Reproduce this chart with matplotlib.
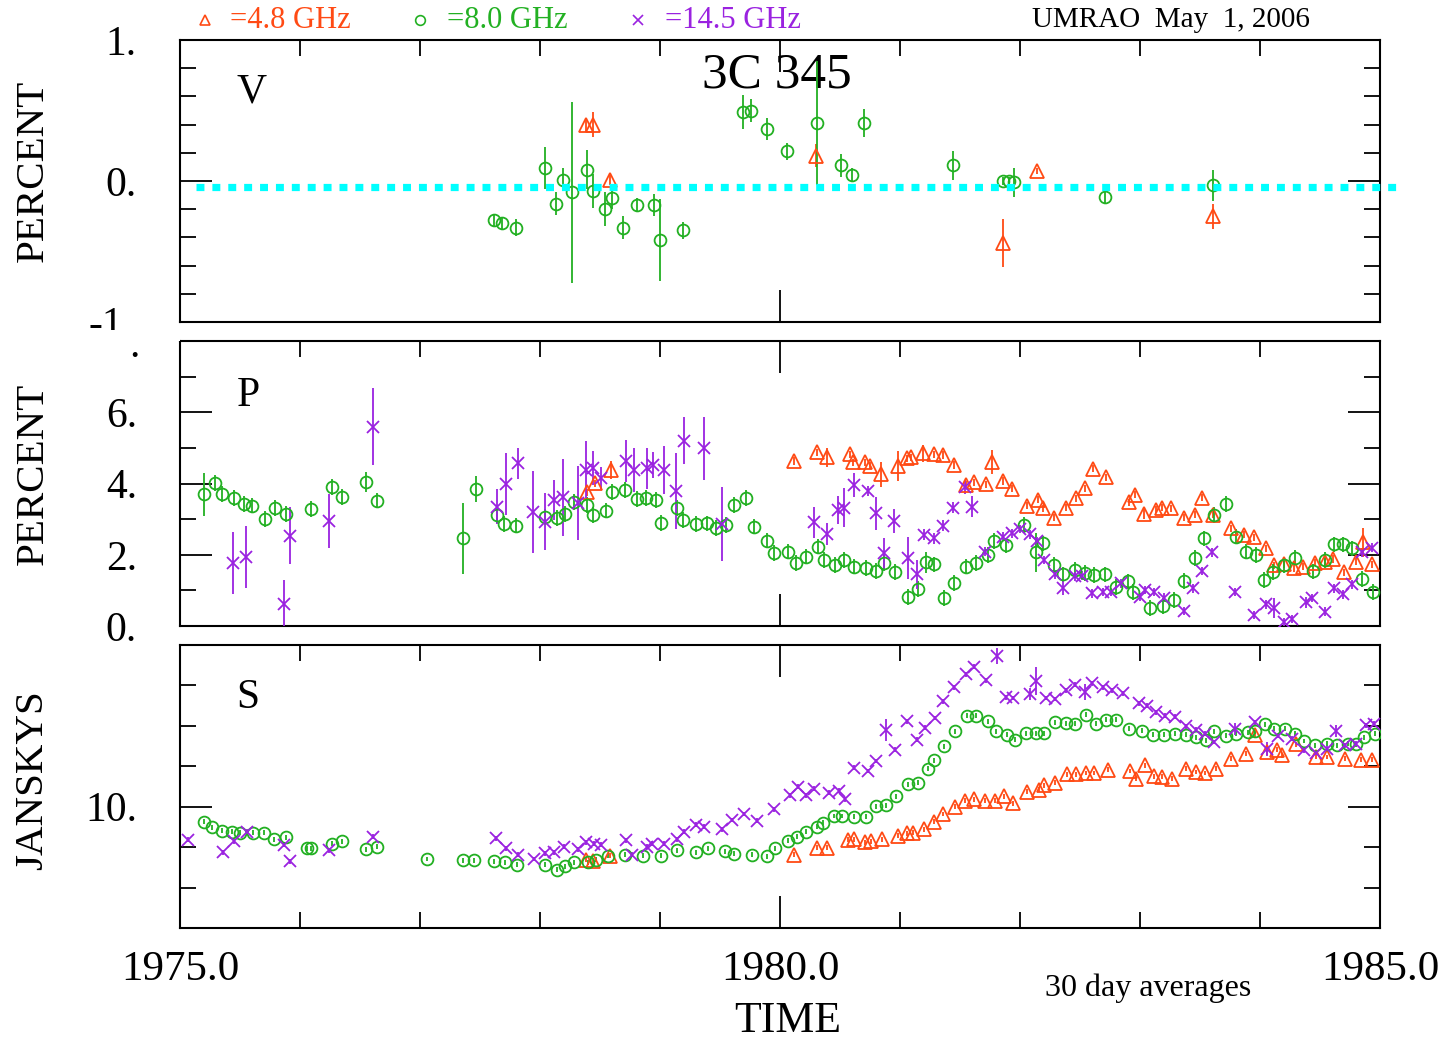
import matplotlib.pyplot as plt
from matplotlib.lines import Line2D
from matplotlib.patches import Rectangle
from matplotlib.ticker import MultipleLocator, FuncFormatter

plt.rcParams['font.family'] = ['Liberation Serif', 'DejaVu Serif']

C48 = '#ff4a14'
C80 = '#22b022'
C145 = '#9a22e0'

# ---- V : circular polarization (percent) ----
v80_t = [1977.62, 1977.68, 1977.80, 1978.04, 1978.13, 1978.19, 1978.27, 1978.39, 1978.44, 1978.54,
         1978.60, 1978.69, 1978.81, 1978.95, 1979.00, 1979.19, 1979.69, 1979.76, 1979.89, 1980.06,
         1980.31, 1980.51, 1980.60, 1980.70, 1981.44, 1981.86, 1981.91, 1981.95, 1982.71, 1983.61]
v80 = [-0.28, -0.30, -0.33, 0.09, -0.16, 0.01, -0.08, 0.08, -0.07, -0.20,
       -0.12, -0.33, -0.17, -0.17, -0.42, -0.35, 0.49, 0.50, 0.37, 0.21,
       0.41, 0.11, 0.04, 0.41, 0.11, 0.00, 0.00, -0.01, -0.11, -0.03]
v80_err = [0.04, 0.04, 0.06, 0.15, 0.08, 0.08, 0.64, 0.14, 0.12, 0.12,
           0.08, 0.08, 0.05, 0.08, 0.29, 0.06, 0.12, 0.08, 0.08, 0.06,
           0.44, 0.08, 0.05, 0.10, 0.10, 0.03, 0.03, 0.10, 0.05, 0.11]
v48_t = [1978.38, 1978.44, 1978.58, 1980.30, 1981.86, 1982.14, 1983.61]
v48 = [0.40, 0.40, 0.01, 0.18, -0.44, 0.07, -0.25]
v48_err = [0.05, 0.09, 0.04, 0.08, 0.17, 0.02, 0.09]
v_zero_level = -0.04
v_zero_span = [1975.13, 1985.13]

# ---- P : linear polarization (percent) ----
p48_t = [1978.39, 1978.46, 1978.59,
         1980.12, 1980.31, 1980.39, 1980.58, 1980.61, 1980.71, 1980.75, 1980.84, 1980.98,
         1981.06, 1981.09, 1981.19, 1981.28, 1981.36, 1981.45, 1981.55, 1981.62, 1981.72, 1981.77, 1981.86, 1981.93,
         1982.06, 1982.15, 1982.19, 1982.28, 1982.38, 1982.47, 1982.54, 1982.61, 1982.72, 1982.91, 1982.96,
         1983.03, 1983.13, 1983.18, 1983.26, 1983.37, 1983.46, 1983.52, 1983.61, 1983.76, 1983.87, 1983.95,
         1984.05, 1984.12, 1984.20, 1984.28, 1984.36, 1984.46, 1984.54, 1984.61, 1984.70, 1984.80, 1984.86, 1984.93]
p48 = [3.75, 4.01, 4.38,
       4.63, 4.88, 4.73, 4.82, 4.60, 4.60, 4.50, 4.26, 4.48,
       4.71, 4.73, 4.85, 4.82, 4.80, 4.52, 3.96, 4.04, 3.98, 4.60, 4.07, 3.85,
       3.38, 3.54, 3.31, 3.04, 3.32, 3.59, 3.87, 4.41, 4.17, 3.47, 3.68,
       3.14, 3.26, 3.32, 3.31, 3.04, 3.12, 3.60, 3.12, 2.74, 2.56, 2.49,
       2.18, 1.71, 1.73, 1.62, 1.67, 1.78, 1.81, 1.88, 1.51, 1.81, 2.35, 1.73]
p48_err = [0.10, 0.10, 0.26,
           0.10, 0.10, 0.26, 0.10, 0.10, 0.10, 0.10, 0.35, 0.42,
           0.10, 0.10, 0.24, 0.10, 0.10, 0.10, 0.10, 0.10, 0.10, 0.34, 0.10, 0.10,
           0.10, 0.10, 0.10, 0.10, 0.10, 0.10, 0.10, 0.10, 0.10, 0.10, 0.10,
           0.15, 0.10, 0.10, 0.10, 0.10, 0.10, 0.10, 0.10, 0.10, 0.10, 0.10,
           0.10, 0.10, 0.10, 0.10, 0.10, 0.10, 0.10, 0.10, 0.10, 0.10, 0.40, 0.10]

p80_t = [1975.20, 1975.29, 1975.35, 1975.45, 1975.53, 1975.60, 1975.71, 1975.79, 1975.88,
         1976.09, 1976.27, 1976.35, 1976.55, 1976.64,
         1977.36, 1977.47, 1977.64, 1977.70, 1977.80,
         1978.04, 1978.14, 1978.21, 1978.28, 1978.39, 1978.44, 1978.55, 1978.60, 1978.71, 1978.81, 1978.88, 1978.97,
         1979.01, 1979.14, 1979.19, 1979.30, 1979.39, 1979.47, 1979.55, 1979.62, 1979.72, 1979.78, 1979.89, 1979.95,
         1980.07, 1980.13, 1980.22, 1980.32, 1980.37, 1980.46, 1980.53, 1980.62, 1980.72, 1980.80, 1980.87, 1980.96,
         1981.07, 1981.15, 1981.22, 1981.28, 1981.37, 1981.45, 1981.55, 1981.63, 1981.73, 1981.78, 1981.88,
         1982.03, 1982.13, 1982.19, 1982.28, 1982.36, 1982.46, 1982.54, 1982.62, 1982.71, 1982.80, 1982.90, 1982.94,
         1983.08, 1983.19, 1983.28, 1983.37, 1983.46, 1983.53, 1983.62, 1983.72, 1983.80, 1983.88, 1983.97,
         1984.03, 1984.11, 1984.20, 1984.29, 1984.44, 1984.54, 1984.62, 1984.69, 1984.77, 1984.85, 1984.94]
p80 = [3.70, 4.01, 3.70, 3.60, 3.42, 3.38, 3.00, 3.32, 3.14,
       3.28, 3.91, 3.63, 4.03, 3.52,
       2.46, 3.84, 3.12, 2.86, 2.82,
       3.07, 3.04, 3.15, 3.49, 3.40, 3.12, 3.24, 3.77, 3.82, 3.56, 3.59, 3.54,
       2.90, 3.31, 2.98, 2.87, 2.88, 2.76, 2.84, 3.40, 3.60, 2.79, 2.40, 2.04,
       2.09, 1.76, 1.95, 2.23, 1.85, 1.71, 1.85, 1.67, 1.62, 1.55, 1.76, 1.51,
       0.82, 1.04, 1.79, 1.73, 0.78, 1.20, 1.67, 1.76, 1.99, 2.39, 2.26,
       2.84, 2.07, 2.32, 1.71, 1.45, 1.57, 1.48, 1.43, 1.45, 1.10, 1.25, 0.96,
       0.50, 0.57, 0.73, 1.26, 1.90, 2.46, 3.12, 3.42, 2.51, 2.09, 1.99,
       1.29, 1.51, 1.71, 1.92, 1.53, 1.85, 2.29, 2.29, 2.18, 1.32, 0.96]
p80_err = [0.60, 0.22, 0.22, 0.22, 0.22, 0.22, 0.22, 0.22, 0.22,
           0.22, 0.22, 0.22, 0.28, 0.22,
           1.00, 0.37, 0.22, 0.22, 0.22,
           0.22, 0.22, 0.22, 0.22, 0.22, 0.22, 0.22, 0.22, 0.22, 0.22, 0.22, 0.22,
           0.22, 0.22, 0.22, 0.22, 0.22, 0.22, 0.22, 0.22, 0.22, 0.22, 0.22, 0.22,
           0.22, 0.22, 0.22, 0.22, 0.22, 0.22, 0.22, 0.22, 0.22, 0.22, 0.22, 0.22,
           0.22, 0.22, 0.30, 0.22, 0.22, 0.22, 0.22, 0.22, 0.22, 0.22, 0.22,
           0.22, 0.55, 0.22, 0.22, 0.22, 0.22, 0.22, 0.22, 0.22, 0.22, 0.22, 0.22,
           0.22, 0.22, 0.22, 0.22, 0.22, 0.22, 0.22, 0.22, 0.22, 0.22, 0.22,
           0.22, 0.22, 0.22, 0.22, 0.22, 0.22, 0.22, 0.22, 0.22, 0.22, 0.22]

p145_t = [1975.44, 1975.55, 1975.87, 1975.92, 1976.24, 1976.61,
          1977.64, 1977.72, 1977.82, 1977.94,
          1978.04, 1978.12, 1978.19, 1978.32, 1978.38, 1978.44, 1978.51, 1978.72, 1978.78, 1978.89, 1978.94,
          1979.03, 1979.13, 1979.20, 1979.37, 1979.52,
          1980.28, 1980.39, 1980.48, 1980.53, 1980.62, 1980.73, 1980.80, 1980.87, 1980.95,
          1981.07, 1981.14, 1981.20, 1981.28, 1981.36, 1981.44, 1981.54, 1981.60, 1981.71, 1981.86, 1981.93,
          1982.00, 1982.08, 1982.14, 1982.20, 1982.29, 1982.36, 1982.46, 1982.52, 1982.60, 1982.69, 1982.76, 1982.84,
          1983.00, 1983.04, 1983.12, 1983.20, 1983.37, 1983.44, 1983.52, 1983.60, 1983.79, 1983.95,
          1984.05, 1984.12, 1984.20, 1984.27, 1984.38, 1984.43, 1984.54, 1984.62, 1984.69, 1984.77, 1984.85, 1984.93]
p145 = [1.76, 1.95, 0.61, 2.53, 2.95, 5.60,
        3.35, 3.99, 4.57, 3.21,
        2.93, 3.54, 3.61, 3.45, 4.38, 4.43, 4.15, 4.63, 4.38, 4.43, 4.52,
        4.38, 3.79, 5.20, 4.99, 2.86,
        2.91, 2.57, 3.26, 3.32, 3.96, 3.79, 3.16, 2.04, 2.95,
        1.92, 1.45, 2.56, 2.46, 2.82, 3.32, 3.91, 3.35, 2.09, 2.51, 2.60,
        2.72, 2.57, 2.39, 1.85, 1.45, 1.06, 1.39, 1.41, 0.92, 0.95, 0.96, 1.20,
        0.82, 1.01, 0.95, 0.80, 0.42, 1.06, 1.54, 2.07, 0.95, 0.31,
        0.61, 0.51, 0.10, 0.20, 0.66, 0.78, 0.40, 1.06, 0.89, 1.17, 2.07, 2.20]
p145_err = [0.87, 0.87, 0.68, 0.80, 0.76, 1.09,
            0.50, 0.87, 0.44, 1.15,
            0.80, 0.56, 1.09, 1.03, 0.80, 0.48, 0.30, 0.59, 0.62, 0.58, 0.37,
            0.68, 1.08, 0.66, 0.89, 1.04,
            0.44, 0.31, 0.40, 0.54, 0.33, 0.15, 0.47, 0.44, 0.34,
            0.59, 0.40, 0.15, 0.15, 0.15, 0.15, 0.20, 0.30, 0.12, 0.12, 0.12,
            0.12, 0.12, 0.12, 0.12, 0.12, 0.20, 0.12, 0.12, 0.12, 0.12, 0.12, 0.12,
            0.12, 0.12, 0.12, 0.12, 0.12, 0.12, 0.12, 0.12, 0.12, 0.12,
            0.12, 0.28, 0.12, 0.12, 0.15, 0.12, 0.12, 0.12, 0.12, 0.12, 0.12, 0.12]

# ---- S : total flux density (Jy) ----
s48_t = [1978.38, 1978.44, 1978.58,
         1980.12, 1980.31, 1980.39, 1980.57, 1980.62, 1980.71, 1980.76, 1980.85, 1980.98,
         1981.06, 1981.11, 1981.20, 1981.28, 1981.36, 1981.46, 1981.54, 1981.62, 1981.71, 1981.79, 1981.87, 1981.94,
         1982.06, 1982.16, 1982.20, 1982.29, 1982.39, 1982.47, 1982.55, 1982.62, 1982.73, 1982.92, 1982.97,
         1983.04, 1983.12, 1983.18, 1983.27, 1983.38, 1983.47, 1983.54, 1983.63, 1983.76, 1983.88, 1983.96,
         1984.06, 1984.14, 1984.18, 1984.30, 1984.47, 1984.56, 1984.71, 1984.84, 1984.93]
s48 = [7.38, 7.30, 7.57,
       7.62, 7.98, 7.98, 8.36, 8.39, 8.23, 8.28, 8.39, 8.56,
       8.69, 8.72, 8.89, 9.26, 9.64, 10.00, 10.30, 10.36, 10.30, 10.30, 10.52, 10.16,
       10.74, 10.85, 11.07, 11.18, 11.61, 11.61, 11.67, 11.67, 11.84, 11.77, 11.39,
       12.05, 11.51, 11.48, 11.39, 11.89, 11.72, 11.67, 11.89, 12.38, 12.62, 13.57,
       12.70, 12.82, 12.54, 13.08, 12.46, 12.46, 12.38, 12.33, 12.33]
s48_err = 0.12

s80_t = [1975.20, 1975.27, 1975.35, 1975.43, 1975.50, 1975.61, 1975.70, 1975.78, 1975.88,
         1976.06, 1976.09, 1976.27, 1976.35, 1976.55, 1976.64,
         1977.06, 1977.36, 1977.45, 1977.62, 1977.71, 1977.81,
         1978.04, 1978.14, 1978.21, 1978.28, 1978.40, 1978.47, 1978.57, 1978.71, 1978.86,
         1979.01, 1979.14, 1979.30, 1979.40, 1979.54, 1979.62, 1979.77, 1979.89, 1979.96,
         1980.07, 1980.14, 1980.22, 1980.31, 1980.36, 1980.45, 1980.52, 1980.62, 1980.72, 1980.80, 1980.88, 1980.97,
         1981.07, 1981.15, 1981.23, 1981.28, 1981.37, 1981.46, 1981.56, 1981.63, 1981.73, 1981.80, 1981.89, 1981.96,
         1982.05, 1982.13, 1982.20, 1982.29, 1982.38, 1982.46, 1982.55, 1982.63, 1982.72, 1982.80, 1982.91,
         1983.02, 1983.11, 1983.20, 1983.29, 1983.38, 1983.47, 1983.55, 1983.62, 1983.72, 1983.80, 1983.90, 1983.96,
         1984.04, 1984.12, 1984.21, 1984.29, 1984.37, 1984.46, 1984.56, 1984.64, 1984.73, 1984.80, 1984.87, 1984.96]
s80 = [9.26, 8.98, 8.82, 8.77, 8.72, 8.72, 8.72, 8.39, 8.49,
       7.95, 7.95, 8.16, 8.28, 7.90, 8.03,
       7.41, 7.34, 7.34, 7.30, 7.25, 7.13,
       7.13, 6.89, 7.05, 7.25, 7.25, 7.38, 7.57, 7.62, 7.57,
       7.57, 7.84, 7.74, 7.95, 7.79, 7.67, 7.62, 7.54, 7.95,
       8.32, 8.52, 8.77, 9.02, 9.21, 9.54, 9.54, 9.51, 9.51, 10.03, 10.08, 10.52,
       11.11, 11.18, 11.89, 12.30, 12.98, 13.74, 14.51, 14.51, 14.23, 13.74, 13.57, 13.31,
       13.64, 13.64, 13.64, 14.18, 14.13, 14.10, 14.56, 14.10, 14.30, 14.30, 13.85,
       13.77, 13.57, 13.57, 13.61, 13.57, 13.44, 13.28, 13.74, 13.52, 13.61, 13.69, 13.74,
       14.07, 13.85, 13.85, 13.61, 13.25, 13.03, 13.11, 13.03, 13.11, 13.08, 13.44, 13.61]
s80_err = 0.12

s145_t = [1975.07, 1975.36, 1975.45, 1975.56, 1975.87, 1975.92, 1976.24, 1976.61,
          1977.63, 1977.72, 1977.82, 1977.95,
          1978.04, 1978.12, 1978.20, 1978.32, 1978.38, 1978.45, 1978.51, 1978.72, 1978.77, 1978.89, 1978.93,
          1979.03, 1979.14, 1979.20, 1979.30, 1979.37, 1979.52, 1979.60, 1979.70, 1979.81, 1979.95,
          1980.08, 1980.15, 1980.22, 1980.28, 1980.41, 1980.49, 1980.54, 1980.62, 1980.73, 1980.80, 1980.88, 1980.96,
          1981.06, 1981.14, 1981.21, 1981.29, 1981.36, 1981.45, 1981.55, 1981.62, 1981.72, 1981.81, 1981.88, 1981.94,
          1982.08, 1982.13, 1982.22, 1982.29, 1982.38, 1982.46, 1982.54, 1982.60, 1982.69, 1982.77, 1982.86, 1982.99,
          1983.06, 1983.13, 1983.21, 1983.29, 1983.38, 1983.47, 1983.54, 1983.62, 1983.79, 1983.96,
          1984.06, 1984.15, 1984.27, 1984.37, 1984.47, 1984.56, 1984.63, 1984.71, 1984.80, 1984.88, 1984.95]
s145 = [8.36, 7.74, 8.28, 8.77, 8.11, 7.30, 7.84, 8.52,
        8.44, 7.95, 7.62, 7.41,
        7.70, 7.74, 8.03, 7.90, 8.23, 8.16, 8.11, 8.33, 7.62, 8.03, 8.16,
        8.16, 8.39, 8.77, 9.10, 9.02, 8.89, 9.34, 9.64, 9.31, 9.87,
        10.57, 10.98, 10.57, 10.90, 10.69, 10.79, 10.36, 11.93, 11.77, 12.26, 13.80, 12.82,
        14.23, 13.31, 13.90, 14.39, 15.21, 15.90, 16.56, 16.92, 16.26, 17.46, 15.41, 15.38,
        15.57, 16.23, 15.38, 15.33, 15.77, 16.03, 15.66, 16.10, 15.90, 15.77, 15.61, 15.11,
        15.00, 14.67, 14.51, 14.46, 13.97, 13.80, 13.61, 13.20, 13.85, 14.18,
        12.87, 13.52, 13.36, 12.79, 12.66, 12.87, 13.74, 13.03, 13.11, 14.02, 14.10]
s145_err = [0.12, 0.12, 0.12, 0.12, 0.12, 0.12, 0.12, 0.12,
            0.12, 0.12, 0.12, 0.12,
            0.12, 0.12, 0.12, 0.12, 0.12, 0.12, 0.12, 0.12, 0.12, 0.12, 0.12,
            0.12, 0.12, 0.12, 0.12, 0.12, 0.12, 0.12, 0.12, 0.12, 0.12,
            0.12, 0.12, 0.12, 0.12, 0.12, 0.12, 0.12, 0.12, 0.12, 0.12, 0.55, 0.12,
            0.12, 0.12, 0.12, 0.12, 0.12, 0.12, 0.12, 0.12, 0.12, 0.40, 0.12, 0.12,
            0.30, 0.70, 0.12, 0.12, 0.12, 0.12, 0.40, 0.12, 0.12, 0.12, 0.12, 0.12,
            0.12, 0.12, 0.12, 0.12, 0.12, 0.12, 0.12, 0.12, 0.30, 0.12,
            0.35, 0.12, 0.12, 0.12, 0.12, 0.12, 0.30, 0.12, 0.12, 0.12, 0.12]

W, H = 1439, 1041
fig = plt.figure(figsize=(W / 100, H / 100), dpi=100)


def panel(top, bottom):
    return fig.add_axes([180 / W, 1 - bottom / H, 1200 / W, (bottom - top) / H])


ax_v = panel(40, 322)
ax_p = panel(341, 626)
ax_s = panel(645, 928)


def series(ax, t, y, err, color, marker, ms):
    ax.errorbar(t, y, yerr=err, fmt=marker, ms=ms, mfc='none', mec=color, mew=1.3,
                ecolor=color, elinewidth=1.3, capsize=0, zorder=3)


def dotted_label(fmt):
    return FuncFormatter(lambda v, pos: fmt.get(round(v, 3), ''))


for ax in (ax_v, ax_p, ax_s):
    ax.set_xlim(1975, 1985)
    ax.xaxis.set_major_locator(MultipleLocator(5))
    ax.xaxis.set_minor_locator(MultipleLocator(1))
    ax.tick_params(which='both', direction='in', top=True, right=True, width=1.3, labelsize=30)
    ax.tick_params(which='major', length=23)
    ax.tick_params(which='minor', length=11.5)
    ax.tick_params(axis='y', pad=31)
    ax.tick_params(axis='x', pad=16, labelsize=31)
    for sp in ax.spines.values():
        sp.set_linewidth(1.5)

for ax in (ax_v, ax_p):
    ax.tick_params(axis='x', which='both', labelbottom=False)
    ax.tick_params(axis='x', which='minor', bottom=False)

ax_s.xaxis.set_major_formatter(FuncFormatter(lambda v, pos: f'{v:.1f}'))

# V panel
ax_v.set_ylim(-1, 1)
ax_v.yaxis.set_major_locator(MultipleLocator(1))
ax_v.yaxis.set_minor_locator(MultipleLocator(0.2))
ax_v.yaxis.set_major_formatter(dotted_label({0.0: '0.', 1.0: '1.'}))
series(ax_v, v48_t, v48, v48_err, C48, '^', 10)
series(ax_v, v80_t, v80, v80_err, C80, 'o', 8.5)
ax_v.plot(v_zero_span, [v_zero_level, v_zero_level], color='#00ffff', lw=5.2,
          ls=(0, (1.1, 1.1)), dash_capstyle='butt', clip_on=False, zorder=5)
ax_v.text(0.06, 0.816, 'V', transform=ax_v.transAxes, fontsize=30, ha='center', va='center')
ax_v.text(0.4975, 0.876, '3C 345', transform=ax_v.transAxes, fontsize=37,
          ha='center', va='center', zorder=1)

# P panel
ax_p.set_ylim(0, 8)
ax_p.yaxis.set_major_locator(MultipleLocator(2))
ax_p.yaxis.set_minor_locator(MultipleLocator(1))
ax_p.yaxis.set_major_formatter(dotted_label({0.0: '0.', 2.0: '2.', 4.0: '4.', 6.0: '6.'}))
series(ax_p, p48_t, p48, p48_err, C48, '^', 10)
series(ax_p, p80_t, p80, p80_err, C80, 'o', 8.5)
series(ax_p, p145_t, p145, p145_err, C145, 'x', 8.5)
ax_p.text(0.0567, 0.807, 'P', transform=ax_p.transAxes, fontsize=30, ha='center', va='center')

# S panel
ax_s.set_ylim(4, 18)
ax_s.yaxis.set_major_locator(MultipleLocator(10))
ax_s.yaxis.set_minor_locator(MultipleLocator(2))
ax_s.yaxis.set_major_formatter(dotted_label({10.0: '10.'}))
series(ax_s, s48_t, s48, s48_err, C48, '^', 10)
series(ax_s, s80_t, s80, s80_err, C80, 'o', 8.5)
series(ax_s, s145_t, s145, s145_err, C145, 'x', 8.5)
ax_s.text(0.0567, 0.813, 'S', transform=ax_s.transAxes, fontsize=30, ha='center', va='center')

# the "-1" label of the V panel is cut off where the P panel begins
fig.text(123 / W, 1 - 336 / H, '-1', fontsize=30, ha='right', va='baseline', zorder=3)
fig.add_artist(Rectangle((40 / W, 1 - 341 / H), 140 / W, 11 / H, transform=fig.transFigure,
                         facecolor='white', edgecolor='none', zorder=4))
fig.text(134 / W, 1 - 357 / H, '.', fontsize=30, ha='center', va='baseline')

# axis titles
fig.text(33 / W, 1 - 171 / H, 'PERCENT', rotation=90, fontsize=29.5, ha='center', va='center')
fig.text(33 / W, 1 - 474 / H, 'PERCENT', rotation=90, fontsize=29.5, ha='center', va='center')
fig.text(33 / W, 1 - 780 / H, 'JANSKYS', rotation=90, fontsize=29.5, ha='center', va='center')
fig.text(788 / W, 1 - 1021 / H, 'TIME', fontsize=31.5, ha='center', va='center')
fig.text(1148 / W, 1 - 988 / H, '30 day averages', fontsize=23, ha='center', va='center')

# frequency key along the top
key = [(205, 230, '^', C48, '=4.8 GHz'),
       (420, 447, 'o', C80, '=8.0 GHz'),
       (638, 665, 'x', C145, '=14.5 GHz')]
for mx, tx, mk, col, label in key:
    fig.add_artist(Line2D([mx / W], [1 - 20 / H], marker=mk, ms=7, mfc='none', mec=col,
                          mew=1.2, ls='none', transform=fig.transFigure))
    fig.text(tx / W, 1 - 20 / H, label, color=col, fontsize=22, ha='left', va='center')
fig.text(1171 / W, 1 - 20 / H, 'UMRAO  May  1, 2006', fontsize=21, ha='center', va='center')

fig.savefig('out.png', dpi=100, facecolor='white')
